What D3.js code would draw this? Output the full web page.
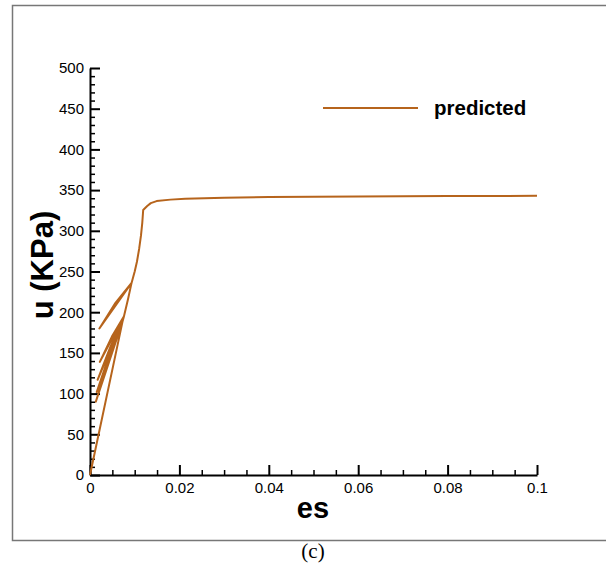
<!DOCTYPE html>
<html>
<head>
<meta charset="utf-8">
<script src="https://cdn.jsdelivr.net/npm/d3@7"></script>
<style>
  body { margin: 0; background: #fff; }
  svg { display: block; }
</style>
</head>
<body>
<svg id="chart" width="606" height="565"></svg>
<script>
// ---- data ----
const seriesName = "predicted";
const esValues = [
  0, 0.0073,
  0.0013, 0.0043, 0.0073, 0.0074,
  0.0015, 0.00445, 0.0074, 0.0075,
  0.0017, 0.0046, 0.0075, 0.0076,
  0.0022, 0.0049, 0.0076,
  0.0085, 0.0093,
  0.0021, 0.0057, 0.0093,
  0.0100, 0.0105, 0.0110, 0.0114, 0.0117, 0.0119,
  0.0128, 0.0136, 0.0149, 0.0180, 0.0213, 0.030, 0.040, 0.060, 0.080, 0.100
];
const uValues = [
  0, 189,
  90, 142.5, 189, 191,
  102, 149.5, 191, 193,
  117, 158, 193, 195,
  139, 170, 195,
  216, 236,
  180, 211.5, 236,
  250, 262, 278, 294, 310, 325.5,
  330.5, 334, 336.5, 338.3, 339.3, 340.7, 341.5, 342.2, 342.6, 343
];
const xMajorTicks = [0, 0.02, 0.04, 0.06, 0.08, 0.1];
const xTickLabels = ["0", "0.02", "0.04", "0.06", "0.08", "0.1"];
const yMajorTicks = [0, 50, 100, 150, 200, 250, 300, 350, 400, 450, 500];
const xTitle = "es";
const yTitle = "u (KPa)";
const caption = "(c)";

// ---- layout ----
const svg = d3.select("#chart");
const color = "#b6641c";
const x = d3.scaleLinear().domain([0, 0.1]).range([90, 537]);
const y = d3.scaleLinear().domain([0, 500]).range([475, 68]);

// frame
svg.append("rect")
  .attr("x", 12.5).attr("y", 5.5)
  .attr("width", 620).attr("height", 535)
  .attr("fill", "none").attr("stroke", "#777").attr("stroke-width", 1.5);

const xMinor = d3.range(0, 0.1001, 0.005).filter(v => !xMajorTicks.some(m => Math.abs(m - v) < 1e-9));
const yMinor = d3.range(0, 501, 10).filter(v => v % 50 !== 0);

// minor ticks
svg.append("g").attr("transform", "translate(0,475)")
  .call(d3.axisBottom(x).tickValues(xMinor).tickSize(-5).tickFormat(""))
  .call(g => g.select(".domain").remove())
  .call(g => g.selectAll("line").attr("stroke", "#000").attr("stroke-width", 1.5));
svg.append("g").attr("transform", "translate(90,0)")
  .call(d3.axisLeft(y).tickValues(yMinor).tickSize(-5).tickFormat(""))
  .call(g => g.select(".domain").remove())
  .call(g => g.selectAll("line").attr("stroke", "#000").attr("stroke-width", 1.5));

// major axes
const fontTick = "'Liberation Sans', Arial, sans-serif";
svg.append("g").attr("transform", "translate(0,475)")
  .call(d3.axisBottom(x).tickValues(xMajorTicks).tickSizeInner(-10).tickSizeOuter(0).tickPadding(7)
    .tickFormat((d, i) => xTickLabels[i]))
  .call(g => g.select(".domain").attr("stroke", "#000").attr("stroke-width", 2))
  .call(g => g.selectAll("line").attr("stroke", "#000").attr("stroke-width", 2))
  .call(g => g.selectAll("text").attr("fill", "#000").attr("font-size", 15).attr("font-family", fontTick));
svg.append("g").attr("transform", "translate(90,0)")
  .call(d3.axisLeft(y).tickValues(yMajorTicks).tickSizeInner(-10).tickSizeOuter(0).tickPadding(6))
  .call(g => g.select(".domain").attr("stroke", "#000").attr("stroke-width", 2))
  .call(g => g.selectAll("line").attr("stroke", "#000").attr("stroke-width", 2))
  .call(g => g.selectAll("text").attr("fill", "#000").attr("font-size", 15).attr("font-family", fontTick));

// series
const pts = esValues.map((e, i) => [e, uValues[i]]);
svg.append("path")
  .datum(pts)
  .attr("fill", "none")
  .attr("stroke", color)
  .attr("stroke-width", 2)
  .attr("stroke-linejoin", "round")
  .attr("d", d3.line().x(d => x(d[0])).y(d => y(d[1])));

// legend
svg.append("line")
  .attr("x1", 323).attr("x2", 418).attr("y1", 108).attr("y2", 108)
  .attr("stroke", color).attr("stroke-width", 2);
svg.append("text")
  .attr("x", 434).attr("y", 115)
  .attr("font-family", fontTick).attr("font-weight", "bold").attr("font-size", 20.5)
  .text(seriesName);

// titles
svg.append("text")
  .attr("x", 313).attr("y", 518)
  .attr("text-anchor", "middle")
  .attr("font-family", fontTick).attr("font-weight", "bold").attr("font-size", 29)
  .text(xTitle);
svg.append("text")
  .attr("transform", "translate(53,265) rotate(-90)")
  .attr("text-anchor", "middle")
  .attr("font-family", fontTick).attr("font-weight", "bold").attr("font-size", 31)
  .text(yTitle);

// caption
svg.append("text")
  .attr("x", 313).attr("y", 558)
  .attr("text-anchor", "middle")
  .attr("font-family", "'Liberation Serif', 'Times New Roman', serif").attr("font-size", 21)
  .text(caption);
</script>
</body>
</html>
